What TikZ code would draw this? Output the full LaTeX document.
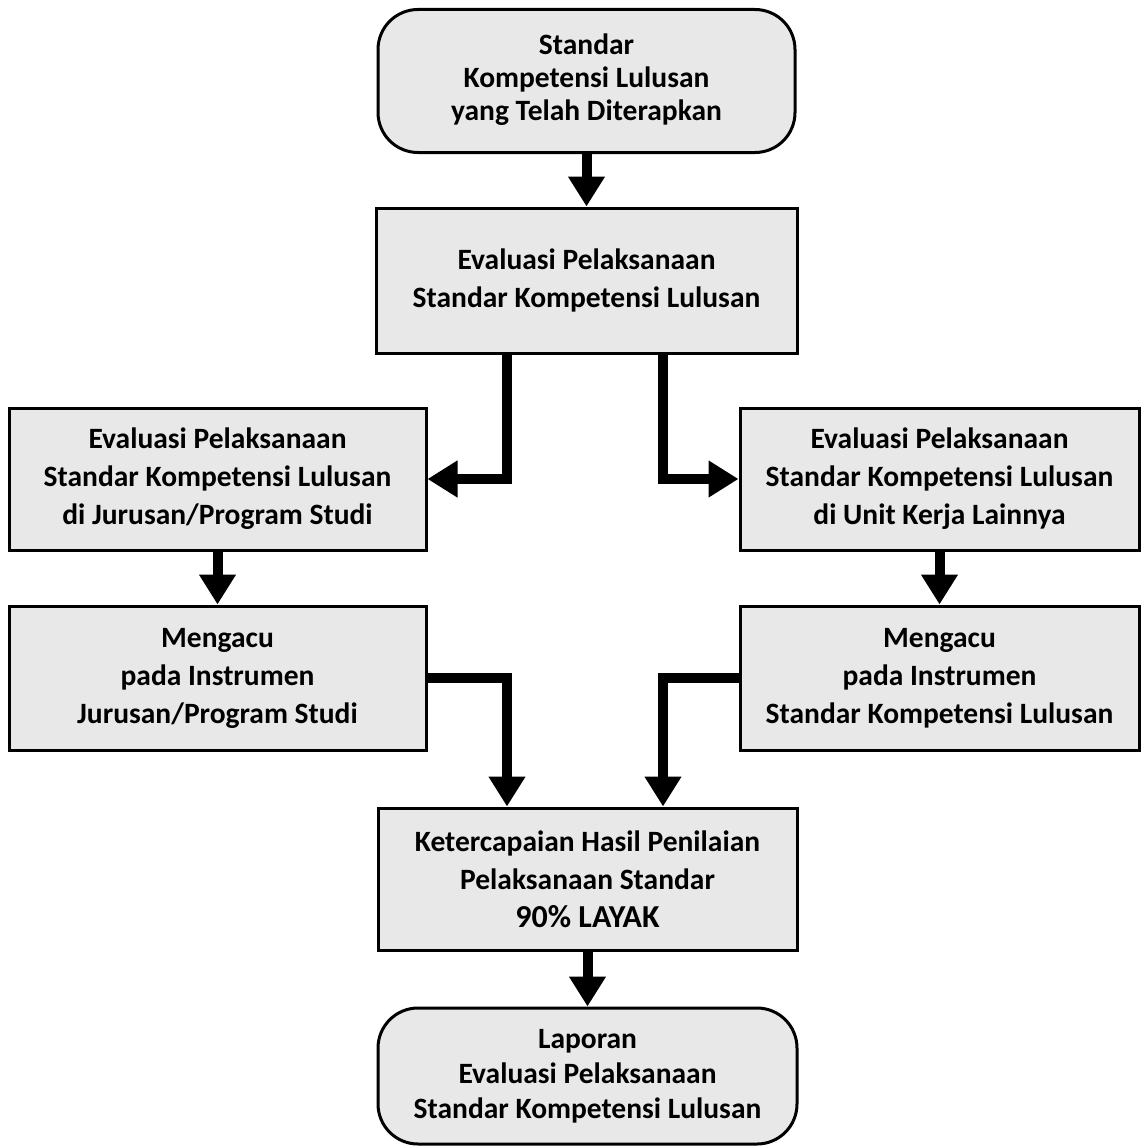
\documentclass[tikz,border=0pt]{standalone}
\usepackage{fontspec}
\setmainfont{Carlito}
\usetikzlibrary{arrows.meta}

\tikzset{
  box/.style={draw, line width=3pt, fill=gray!18, align=center, inner sep=0pt,
    font=\fontsize{29.5}{38}\selectfont\bfseries},
  rbox/.style={box, rounded corners=40pt},
  arr/.style={line width=10pt, line join=miter, -{Triangle[width=35pt,length=30pt]}}
}

\begin{document}
\begin{tikzpicture}[x=1pt, y=-1pt]
\useasboundingbox (0,0) rectangle (1147,1148);
\node[rbox, minimum width=417pt, minimum height=143pt,
  font=\fontsize{29.5}{33}\selectfont\bfseries] (top) at (586.5, 81)
  {Standar\\Kompetensi Lulusan\\yang Telah Diterapkan\\[-25pt]};
\node[box, minimum width=421pt, minimum height=145pt] (eval) at (586.5, 280.5)
  {Evaluasi Pelaksanaan\\Standar Kompetensi Lulusan};
\node[box, minimum width=417pt, minimum height=142pt] (prodi) at (217.5, 479)
  {Evaluasi Pelaksanaan\\Standar Kompetensi Lulusan\\di Jurusan/Program Studi};
\node[box, minimum width=399pt, minimum height=142pt] (unit) at (939.5, 479)
  {Evaluasi Pelaksanaan\\Standar Kompetensi Lulusan\\di Unit Kerja Lainnya};
\node[box, minimum width=417pt, minimum height=144pt] (instprodi) at (217.5, 678)
  {Mengacu\\pada Instrumen\\Jurusan/Program Studi};
\node[box, minimum width=399pt, minimum height=144pt] (instskl) at (939.5, 678)
  {Mengacu\\pada Instrumen\\Standar Kompetensi Lulusan};
\node[box, minimum width=419pt, minimum height=142pt] (hasil) at (587.5, 879)
  {Ketercapaian Hasil Penilaian\\Pelaksanaan Standar\\
   {\fontsize{32}{37}\selectfont 90\% LAYAK}};
\node[rbox, minimum width=419pt, minimum height=136pt,
  font=\fontsize{29.5}{35}\selectfont\bfseries] (lapor) at (587.5, 1076)
  {Laporan\\Evaluasi Pelaksanaan\\Standar Kompetensi Lulusan};
% alur
\draw[arr] (top) -- (eval);
\draw[arr] ([xshift=-79.5pt]eval.south) |- (prodi.east);
\draw[arr] ([xshift=76.5pt]eval.south) |- (unit.west);
\draw[arr] (prodi) -- (instprodi);
\draw[arr] (unit) -- (instskl);
\draw[arr] (instprodi.east) -| ([xshift=-80.5pt]hasil.north);
\draw[arr] (instskl.west) -| ([xshift=75.5pt]hasil.north);
\draw[arr] (hasil) -- (lapor);
\end{tikzpicture}
\end{document}
